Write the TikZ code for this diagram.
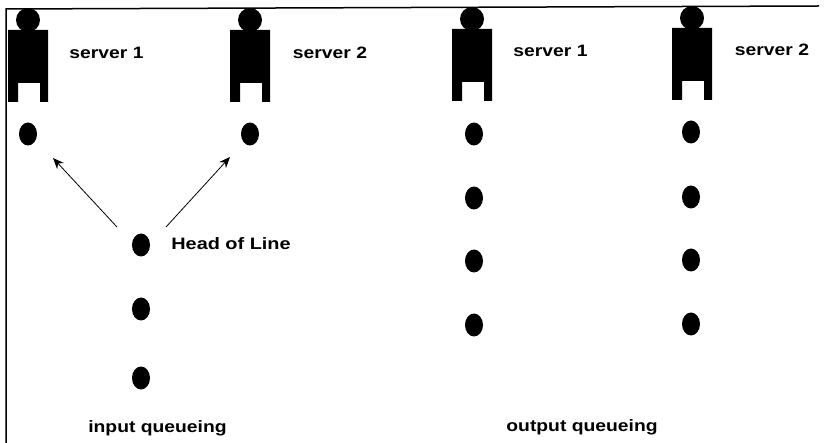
\documentclass[tikz,border=0pt]{standalone}
\usepackage{fontspec}
\setmainfont{Liberation Sans}
\usepackage{tikz}
\usetikzlibrary{shapes.geometric,arrows.meta}
\newcommand{\srv}[2]{
\fill (#1,#2+12) circle (12);
\fill (#1-20,#2+22)--(#1+20,#2+22)--(#1+20,#2+94)--(#1+12,#2+94)--(#1+12,#2+75)--(#1-10,#2+75)--(#1-10,#2+94)--(#1-20,#2+94)--cycle;
}
\tikzset{
dot/.style={draw=none,fill=black,ellipse,minimum width=18,minimum height=23,inner sep=0},
lbl/.style={font=\fontsize{16.5}{18}\bfseries,xscale=1.17,transform shape,inner sep=0},
}
\begin{document}
\begin{tikzpicture}[x=1pt,y=-1pt]
\useasboundingbox (0,0) rectangle (824,443);

\draw[line width=1.5pt] (6,443)--(6,9)--(819,6);

\srv{28}{8};
\srv{250}{8};
\srv{472}{7};
\srv{692}{6};

\node[lbl] (s1) at (106.5,53) {server 1};
\node[lbl] (s2) at (330,53) {server 2};
\node[lbl] (s3) at (550.5,51) {server 1};
\node[lbl] (s4) at (772,50) {server 2};

\node[dot] (a) at (28,134) {};
\node[dot] (b) at (250,134) {};
\node[dot] (c) at (141,245) {};
\node[dot] (d) at (141,309) {};
\node[dot] (e) at (141,378) {};

\node[dot] (f1) at (474,134) {};
\node[dot] (f2) at (474,198) {};
\node[dot] (f3) at (474,261) {};
\node[dot] (f4) at (474,325) {};
\node[dot] (g1) at (691,132) {};
\node[dot] (g2) at (691,197) {};
\node[dot] (g3) at (691,260) {};
\node[dot] (g4) at (691,324) {};

\node[lbl,xscale=1.03] (hl) at (231,244) {Head of Line};
\node[lbl] (iq) at (157.5,428) {input queueing};
\node[lbl] (oq) at (582,427) {output queueing};

\coordinate (p) at (117,227);
\coordinate (q) at (166,227);
\coordinate (pa) at (53,158);
\coordinate (qb) at (230,157);
\draw[-{Stealth[length=11,width=9]},line width=.8pt] (p)--(pa);
\draw[-{Stealth[length=11,width=9]},line width=.8pt] (q)--(qb);

\end{tikzpicture}
\end{document}
